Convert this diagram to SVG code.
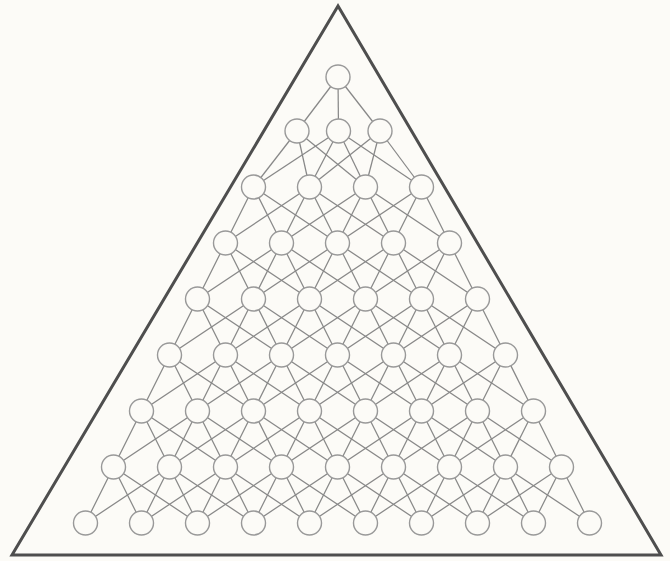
<svg xmlns="http://www.w3.org/2000/svg" width="670" height="561" viewBox="0 0 670 561">
<style>
.bg{fill:#fcfbf7}
.tri{fill:none;stroke:#4e4e4e;stroke-width:3;stroke-linejoin:miter}
.e{stroke:#888888;stroke-width:1.25}
.n circle{fill:#fcfbf7;stroke:#999999;stroke-width:1.4}
</style>
<rect class="bg" x="0" y="0" width="670" height="561"/>
<polygon class="tri" points="338,6 12,555 661,555"/>
<g id="connectors">
<g id="r0-r1">
<line class="e" x1="338" y1="77" x2="297" y2="131"/>
<line class="e" x1="338" y1="77" x2="338.5" y2="131"/>
<line class="e" x1="338" y1="77" x2="380" y2="131"/>
</g>
<g id="r1-r2">
<line class="e" x1="297" y1="131" x2="253.5" y2="187"/>
<line class="e" x1="297" y1="131" x2="309.5" y2="187"/>
<line class="e" x1="297" y1="131" x2="365.5" y2="187"/>
<line class="e" x1="338.5" y1="131" x2="253.5" y2="187"/>
<line class="e" x1="338.5" y1="131" x2="309.5" y2="187"/>
<line class="e" x1="338.5" y1="131" x2="365.5" y2="187"/>
<line class="e" x1="338.5" y1="131" x2="421.5" y2="187"/>
<line class="e" x1="380" y1="131" x2="309.5" y2="187"/>
<line class="e" x1="380" y1="131" x2="365.5" y2="187"/>
<line class="e" x1="380" y1="131" x2="421.5" y2="187"/>
</g>
<g id="r2-r3">
<line class="e" x1="253.5" y1="187" x2="225.5" y2="243"/>
<line class="e" x1="253.5" y1="187" x2="281.5" y2="243"/>
<line class="e" x1="253.5" y1="187" x2="337.5" y2="243"/>
<line class="e" x1="309.5" y1="187" x2="225.5" y2="243"/>
<line class="e" x1="309.5" y1="187" x2="281.5" y2="243"/>
<line class="e" x1="309.5" y1="187" x2="337.5" y2="243"/>
<line class="e" x1="309.5" y1="187" x2="393.5" y2="243"/>
<line class="e" x1="365.5" y1="187" x2="281.5" y2="243"/>
<line class="e" x1="365.5" y1="187" x2="337.5" y2="243"/>
<line class="e" x1="365.5" y1="187" x2="393.5" y2="243"/>
<line class="e" x1="365.5" y1="187" x2="449.5" y2="243"/>
<line class="e" x1="421.5" y1="187" x2="337.5" y2="243"/>
<line class="e" x1="421.5" y1="187" x2="393.5" y2="243"/>
<line class="e" x1="421.5" y1="187" x2="449.5" y2="243"/>
</g>
<g id="r3-r4">
<line class="e" x1="225.5" y1="243" x2="197.5" y2="299"/>
<line class="e" x1="225.5" y1="243" x2="253.5" y2="299"/>
<line class="e" x1="225.5" y1="243" x2="309.5" y2="299"/>
<line class="e" x1="281.5" y1="243" x2="197.5" y2="299"/>
<line class="e" x1="281.5" y1="243" x2="253.5" y2="299"/>
<line class="e" x1="281.5" y1="243" x2="309.5" y2="299"/>
<line class="e" x1="281.5" y1="243" x2="365.5" y2="299"/>
<line class="e" x1="337.5" y1="243" x2="253.5" y2="299"/>
<line class="e" x1="337.5" y1="243" x2="309.5" y2="299"/>
<line class="e" x1="337.5" y1="243" x2="365.5" y2="299"/>
<line class="e" x1="337.5" y1="243" x2="421.5" y2="299"/>
<line class="e" x1="393.5" y1="243" x2="309.5" y2="299"/>
<line class="e" x1="393.5" y1="243" x2="365.5" y2="299"/>
<line class="e" x1="393.5" y1="243" x2="421.5" y2="299"/>
<line class="e" x1="393.5" y1="243" x2="477.5" y2="299"/>
<line class="e" x1="449.5" y1="243" x2="365.5" y2="299"/>
<line class="e" x1="449.5" y1="243" x2="421.5" y2="299"/>
<line class="e" x1="449.5" y1="243" x2="477.5" y2="299"/>
</g>
<g id="r4-r5">
<line class="e" x1="197.5" y1="299" x2="169.5" y2="355"/>
<line class="e" x1="197.5" y1="299" x2="225.5" y2="355"/>
<line class="e" x1="197.5" y1="299" x2="281.5" y2="355"/>
<line class="e" x1="253.5" y1="299" x2="169.5" y2="355"/>
<line class="e" x1="253.5" y1="299" x2="225.5" y2="355"/>
<line class="e" x1="253.5" y1="299" x2="281.5" y2="355"/>
<line class="e" x1="253.5" y1="299" x2="337.5" y2="355"/>
<line class="e" x1="309.5" y1="299" x2="225.5" y2="355"/>
<line class="e" x1="309.5" y1="299" x2="281.5" y2="355"/>
<line class="e" x1="309.5" y1="299" x2="337.5" y2="355"/>
<line class="e" x1="309.5" y1="299" x2="393.5" y2="355"/>
<line class="e" x1="365.5" y1="299" x2="281.5" y2="355"/>
<line class="e" x1="365.5" y1="299" x2="337.5" y2="355"/>
<line class="e" x1="365.5" y1="299" x2="393.5" y2="355"/>
<line class="e" x1="365.5" y1="299" x2="449.5" y2="355"/>
<line class="e" x1="421.5" y1="299" x2="337.5" y2="355"/>
<line class="e" x1="421.5" y1="299" x2="393.5" y2="355"/>
<line class="e" x1="421.5" y1="299" x2="449.5" y2="355"/>
<line class="e" x1="421.5" y1="299" x2="505.5" y2="355"/>
<line class="e" x1="477.5" y1="299" x2="393.5" y2="355"/>
<line class="e" x1="477.5" y1="299" x2="449.5" y2="355"/>
<line class="e" x1="477.5" y1="299" x2="505.5" y2="355"/>
</g>
<g id="r5-r6">
<line class="e" x1="169.5" y1="355" x2="141.5" y2="411"/>
<line class="e" x1="169.5" y1="355" x2="197.5" y2="411"/>
<line class="e" x1="169.5" y1="355" x2="253.5" y2="411"/>
<line class="e" x1="225.5" y1="355" x2="141.5" y2="411"/>
<line class="e" x1="225.5" y1="355" x2="197.5" y2="411"/>
<line class="e" x1="225.5" y1="355" x2="253.5" y2="411"/>
<line class="e" x1="225.5" y1="355" x2="309.5" y2="411"/>
<line class="e" x1="281.5" y1="355" x2="197.5" y2="411"/>
<line class="e" x1="281.5" y1="355" x2="253.5" y2="411"/>
<line class="e" x1="281.5" y1="355" x2="309.5" y2="411"/>
<line class="e" x1="281.5" y1="355" x2="365.5" y2="411"/>
<line class="e" x1="337.5" y1="355" x2="253.5" y2="411"/>
<line class="e" x1="337.5" y1="355" x2="309.5" y2="411"/>
<line class="e" x1="337.5" y1="355" x2="365.5" y2="411"/>
<line class="e" x1="337.5" y1="355" x2="421.5" y2="411"/>
<line class="e" x1="393.5" y1="355" x2="309.5" y2="411"/>
<line class="e" x1="393.5" y1="355" x2="365.5" y2="411"/>
<line class="e" x1="393.5" y1="355" x2="421.5" y2="411"/>
<line class="e" x1="393.5" y1="355" x2="477.5" y2="411"/>
<line class="e" x1="449.5" y1="355" x2="365.5" y2="411"/>
<line class="e" x1="449.5" y1="355" x2="421.5" y2="411"/>
<line class="e" x1="449.5" y1="355" x2="477.5" y2="411"/>
<line class="e" x1="449.5" y1="355" x2="533.5" y2="411"/>
<line class="e" x1="505.5" y1="355" x2="421.5" y2="411"/>
<line class="e" x1="505.5" y1="355" x2="477.5" y2="411"/>
<line class="e" x1="505.5" y1="355" x2="533.5" y2="411"/>
</g>
<g id="r6-r7">
<line class="e" x1="141.5" y1="411" x2="113.5" y2="467"/>
<line class="e" x1="141.5" y1="411" x2="169.5" y2="467"/>
<line class="e" x1="141.5" y1="411" x2="225.5" y2="467"/>
<line class="e" x1="197.5" y1="411" x2="113.5" y2="467"/>
<line class="e" x1="197.5" y1="411" x2="169.5" y2="467"/>
<line class="e" x1="197.5" y1="411" x2="225.5" y2="467"/>
<line class="e" x1="197.5" y1="411" x2="281.5" y2="467"/>
<line class="e" x1="253.5" y1="411" x2="169.5" y2="467"/>
<line class="e" x1="253.5" y1="411" x2="225.5" y2="467"/>
<line class="e" x1="253.5" y1="411" x2="281.5" y2="467"/>
<line class="e" x1="253.5" y1="411" x2="337.5" y2="467"/>
<line class="e" x1="309.5" y1="411" x2="225.5" y2="467"/>
<line class="e" x1="309.5" y1="411" x2="281.5" y2="467"/>
<line class="e" x1="309.5" y1="411" x2="337.5" y2="467"/>
<line class="e" x1="309.5" y1="411" x2="393.5" y2="467"/>
<line class="e" x1="365.5" y1="411" x2="281.5" y2="467"/>
<line class="e" x1="365.5" y1="411" x2="337.5" y2="467"/>
<line class="e" x1="365.5" y1="411" x2="393.5" y2="467"/>
<line class="e" x1="365.5" y1="411" x2="449.5" y2="467"/>
<line class="e" x1="421.5" y1="411" x2="337.5" y2="467"/>
<line class="e" x1="421.5" y1="411" x2="393.5" y2="467"/>
<line class="e" x1="421.5" y1="411" x2="449.5" y2="467"/>
<line class="e" x1="421.5" y1="411" x2="505.5" y2="467"/>
<line class="e" x1="477.5" y1="411" x2="393.5" y2="467"/>
<line class="e" x1="477.5" y1="411" x2="449.5" y2="467"/>
<line class="e" x1="477.5" y1="411" x2="505.5" y2="467"/>
<line class="e" x1="477.5" y1="411" x2="561.5" y2="467"/>
<line class="e" x1="533.5" y1="411" x2="449.5" y2="467"/>
<line class="e" x1="533.5" y1="411" x2="505.5" y2="467"/>
<line class="e" x1="533.5" y1="411" x2="561.5" y2="467"/>
</g>
<g id="r7-r8">
<line class="e" x1="113.5" y1="467" x2="85.5" y2="523"/>
<line class="e" x1="113.5" y1="467" x2="141.5" y2="523"/>
<line class="e" x1="113.5" y1="467" x2="197.5" y2="523"/>
<line class="e" x1="169.5" y1="467" x2="85.5" y2="523"/>
<line class="e" x1="169.5" y1="467" x2="141.5" y2="523"/>
<line class="e" x1="169.5" y1="467" x2="197.5" y2="523"/>
<line class="e" x1="169.5" y1="467" x2="253.5" y2="523"/>
<line class="e" x1="225.5" y1="467" x2="141.5" y2="523"/>
<line class="e" x1="225.5" y1="467" x2="197.5" y2="523"/>
<line class="e" x1="225.5" y1="467" x2="253.5" y2="523"/>
<line class="e" x1="225.5" y1="467" x2="309.5" y2="523"/>
<line class="e" x1="281.5" y1="467" x2="197.5" y2="523"/>
<line class="e" x1="281.5" y1="467" x2="253.5" y2="523"/>
<line class="e" x1="281.5" y1="467" x2="309.5" y2="523"/>
<line class="e" x1="281.5" y1="467" x2="365.5" y2="523"/>
<line class="e" x1="337.5" y1="467" x2="253.5" y2="523"/>
<line class="e" x1="337.5" y1="467" x2="309.5" y2="523"/>
<line class="e" x1="337.5" y1="467" x2="365.5" y2="523"/>
<line class="e" x1="337.5" y1="467" x2="421.5" y2="523"/>
<line class="e" x1="393.5" y1="467" x2="309.5" y2="523"/>
<line class="e" x1="393.5" y1="467" x2="365.5" y2="523"/>
<line class="e" x1="393.5" y1="467" x2="421.5" y2="523"/>
<line class="e" x1="393.5" y1="467" x2="477.5" y2="523"/>
<line class="e" x1="449.5" y1="467" x2="365.5" y2="523"/>
<line class="e" x1="449.5" y1="467" x2="421.5" y2="523"/>
<line class="e" x1="449.5" y1="467" x2="477.5" y2="523"/>
<line class="e" x1="449.5" y1="467" x2="533.5" y2="523"/>
<line class="e" x1="505.5" y1="467" x2="421.5" y2="523"/>
<line class="e" x1="505.5" y1="467" x2="477.5" y2="523"/>
<line class="e" x1="505.5" y1="467" x2="533.5" y2="523"/>
<line class="e" x1="505.5" y1="467" x2="589.5" y2="523"/>
<line class="e" x1="561.5" y1="467" x2="477.5" y2="523"/>
<line class="e" x1="561.5" y1="467" x2="533.5" y2="523"/>
<line class="e" x1="561.5" y1="467" x2="589.5" y2="523"/>
</g>
</g>
<g id="nodes">
<g id="n0-0" class="n"><circle cx="338" cy="77" r="12"/></g>
<g id="n1-0" class="n"><circle cx="297" cy="131" r="12"/></g>
<g id="n1-1" class="n"><circle cx="338.5" cy="131" r="12"/></g>
<g id="n1-2" class="n"><circle cx="380" cy="131" r="12"/></g>
<g id="n2-0" class="n"><circle cx="253.5" cy="187" r="12"/></g>
<g id="n2-1" class="n"><circle cx="309.5" cy="187" r="12"/></g>
<g id="n2-2" class="n"><circle cx="365.5" cy="187" r="12"/></g>
<g id="n2-3" class="n"><circle cx="421.5" cy="187" r="12"/></g>
<g id="n3-0" class="n"><circle cx="225.5" cy="243" r="12"/></g>
<g id="n3-1" class="n"><circle cx="281.5" cy="243" r="12"/></g>
<g id="n3-2" class="n"><circle cx="337.5" cy="243" r="12"/></g>
<g id="n3-3" class="n"><circle cx="393.5" cy="243" r="12"/></g>
<g id="n3-4" class="n"><circle cx="449.5" cy="243" r="12"/></g>
<g id="n4-0" class="n"><circle cx="197.5" cy="299" r="12"/></g>
<g id="n4-1" class="n"><circle cx="253.5" cy="299" r="12"/></g>
<g id="n4-2" class="n"><circle cx="309.5" cy="299" r="12"/></g>
<g id="n4-3" class="n"><circle cx="365.5" cy="299" r="12"/></g>
<g id="n4-4" class="n"><circle cx="421.5" cy="299" r="12"/></g>
<g id="n4-5" class="n"><circle cx="477.5" cy="299" r="12"/></g>
<g id="n5-0" class="n"><circle cx="169.5" cy="355" r="12"/></g>
<g id="n5-1" class="n"><circle cx="225.5" cy="355" r="12"/></g>
<g id="n5-2" class="n"><circle cx="281.5" cy="355" r="12"/></g>
<g id="n5-3" class="n"><circle cx="337.5" cy="355" r="12"/></g>
<g id="n5-4" class="n"><circle cx="393.5" cy="355" r="12"/></g>
<g id="n5-5" class="n"><circle cx="449.5" cy="355" r="12"/></g>
<g id="n5-6" class="n"><circle cx="505.5" cy="355" r="12"/></g>
<g id="n6-0" class="n"><circle cx="141.5" cy="411" r="12"/></g>
<g id="n6-1" class="n"><circle cx="197.5" cy="411" r="12"/></g>
<g id="n6-2" class="n"><circle cx="253.5" cy="411" r="12"/></g>
<g id="n6-3" class="n"><circle cx="309.5" cy="411" r="12"/></g>
<g id="n6-4" class="n"><circle cx="365.5" cy="411" r="12"/></g>
<g id="n6-5" class="n"><circle cx="421.5" cy="411" r="12"/></g>
<g id="n6-6" class="n"><circle cx="477.5" cy="411" r="12"/></g>
<g id="n6-7" class="n"><circle cx="533.5" cy="411" r="12"/></g>
<g id="n7-0" class="n"><circle cx="113.5" cy="467" r="12"/></g>
<g id="n7-1" class="n"><circle cx="169.5" cy="467" r="12"/></g>
<g id="n7-2" class="n"><circle cx="225.5" cy="467" r="12"/></g>
<g id="n7-3" class="n"><circle cx="281.5" cy="467" r="12"/></g>
<g id="n7-4" class="n"><circle cx="337.5" cy="467" r="12"/></g>
<g id="n7-5" class="n"><circle cx="393.5" cy="467" r="12"/></g>
<g id="n7-6" class="n"><circle cx="449.5" cy="467" r="12"/></g>
<g id="n7-7" class="n"><circle cx="505.5" cy="467" r="12"/></g>
<g id="n7-8" class="n"><circle cx="561.5" cy="467" r="12"/></g>
<g id="n8-0" class="n"><circle cx="85.5" cy="523" r="12"/></g>
<g id="n8-1" class="n"><circle cx="141.5" cy="523" r="12"/></g>
<g id="n8-2" class="n"><circle cx="197.5" cy="523" r="12"/></g>
<g id="n8-3" class="n"><circle cx="253.5" cy="523" r="12"/></g>
<g id="n8-4" class="n"><circle cx="309.5" cy="523" r="12"/></g>
<g id="n8-5" class="n"><circle cx="365.5" cy="523" r="12"/></g>
<g id="n8-6" class="n"><circle cx="421.5" cy="523" r="12"/></g>
<g id="n8-7" class="n"><circle cx="477.5" cy="523" r="12"/></g>
<g id="n8-8" class="n"><circle cx="533.5" cy="523" r="12"/></g>
<g id="n8-9" class="n"><circle cx="589.5" cy="523" r="12"/></g>
</g>
</svg>
